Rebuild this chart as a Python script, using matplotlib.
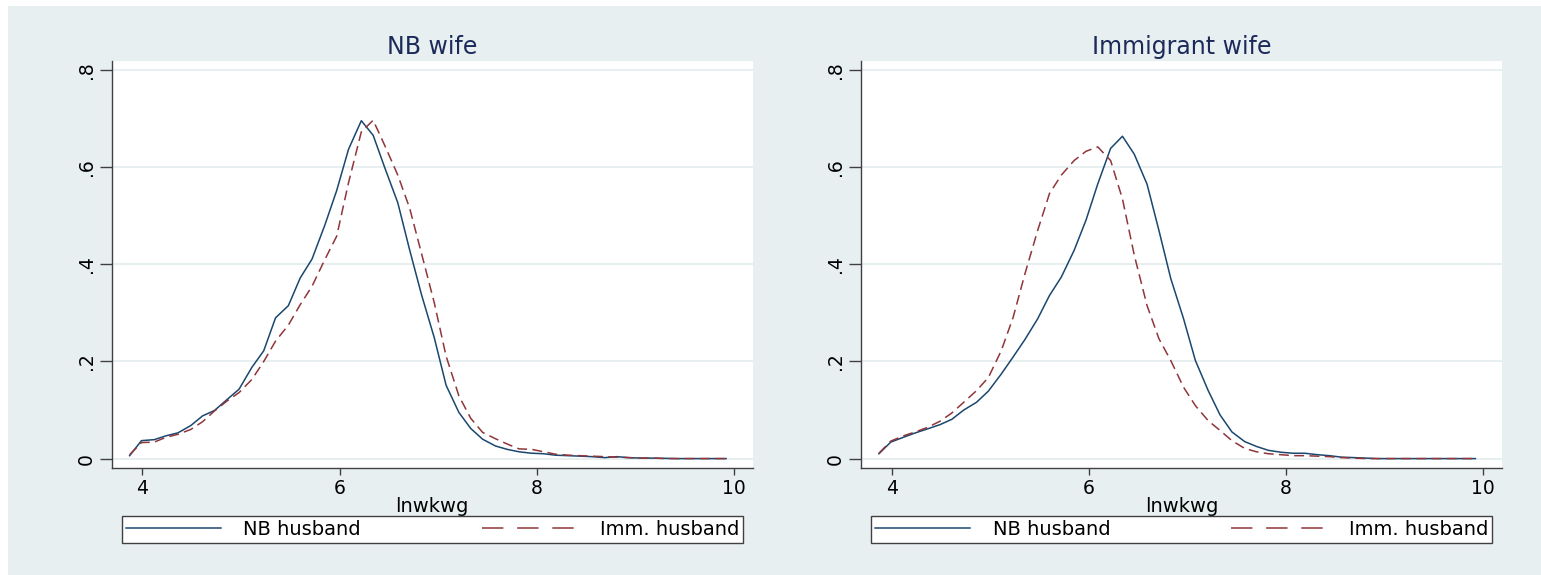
import numpy as np
import matplotlib
matplotlib.use("Agg")
import matplotlib.pyplot as plt
from matplotlib.patches import Rectangle

# kdensity grid (50 points)
x = [3.87, 3.99, 4.12, 4.24, 4.36, 4.49, 4.61, 4.73, 4.86, 4.98,
     5.11, 5.23, 5.35, 5.48, 5.60, 5.72, 5.85, 5.97, 6.09, 6.22,
     6.34, 6.46, 6.59, 6.71, 6.83, 6.96, 7.08, 7.21, 7.33, 7.45,
     7.58, 7.70, 7.82, 7.95, 8.07, 8.19, 8.32, 8.44, 8.56, 8.69,
     8.81, 8.93, 9.06, 9.18, 9.30, 9.43, 9.55, 9.67, 9.80, 9.92]

# NB wife panel
nb_wife_nb_husb = [0.006, 0.037, 0.039, 0.047, 0.053, 0.068, 0.088, 0.099, 0.122, 0.143,
                   0.188, 0.222, 0.290, 0.315, 0.372, 0.411, 0.481, 0.552, 0.637, 0.696,
                   0.666, 0.598, 0.527, 0.430, 0.338, 0.249, 0.151, 0.095, 0.062, 0.040,
                   0.026, 0.019, 0.014, 0.011, 0.010, 0.007, 0.006, 0.005, 0.004, 0.002,
                   0.004, 0.002, 0.001, 0.001, 0.0005, 0.0, 0.0, 0.0, 0.0, 0.0]
nb_wife_imm_husb = [0.008, 0.033, 0.034, 0.044, 0.050, 0.060, 0.076, 0.098, 0.119, 0.136,
                    0.163, 0.200, 0.242, 0.275, 0.317, 0.355, 0.410, 0.458, 0.568, 0.673,
                    0.697, 0.644, 0.584, 0.516, 0.423, 0.321, 0.211, 0.129, 0.083, 0.054,
                    0.041, 0.030, 0.020, 0.019, 0.014, 0.009, 0.007, 0.006, 0.005, 0.004,
                    0.003, 0.002, 0.001, 0.001, 0.0, 0.0, 0.0, 0.0, 0.0, 0.0]

# Immigrant wife panel
imm_wife_nb_husb = [0.010, 0.034, 0.044, 0.053, 0.061, 0.070, 0.081, 0.100, 0.116, 0.139,
                    0.174, 0.209, 0.245, 0.288, 0.336, 0.374, 0.429, 0.491, 0.566, 0.639,
                    0.664, 0.627, 0.565, 0.470, 0.371, 0.288, 0.202, 0.140, 0.090, 0.055,
                    0.035, 0.025, 0.017, 0.013, 0.011, 0.011, 0.008, 0.006, 0.003, 0.002,
                    0.001, 0.0, 0.0, 0.0, 0.0, 0.0, 0.0, 0.0, 0.0, 0.0]
imm_wife_imm_husb = [0.011, 0.036, 0.047, 0.055, 0.064, 0.077, 0.094, 0.116, 0.140, 0.167,
                     0.222, 0.290, 0.380, 0.470, 0.546, 0.584, 0.614, 0.633, 0.642, 0.614,
                     0.535, 0.419, 0.315, 0.247, 0.202, 0.147, 0.109, 0.078, 0.058, 0.037,
                     0.021, 0.014, 0.010, 0.008, 0.006, 0.006, 0.005, 0.004, 0.002, 0.001,
                     0.0, 0.0, 0.0, 0.0, 0.0, 0.0, 0.0, 0.0, 0.0, 0.0]

titles = ["NB wife", "Immigrant wife"]
series_labels = ["NB husband", "Imm. husband"]
xticks = [4, 6, 8, 10]
yticks = [0, 0.2, 0.4, 0.6, 0.8]
ytick_labels = ["0", ".2", ".4", ".6", ".8"]

bg = "#E8EFF1"
navy = "#1A476F"
maroon = "#90353B"

plt.rcParams["font.family"] = "DejaVu Sans"

W, H = 1541, 575
fig = plt.figure(figsize=(W / 100, H / 100), dpi=100, facecolor="white")
fig.patches.append(Rectangle((8 / W, 0), 1, (H - 6) / H, transform=fig.transFigure,
                             facecolor=bg, edgecolor="none", zorder=-10))

panels = [
    (111.7, titles[0], nb_wife_nb_husb, nb_wife_imm_husb),
    (861.0, titles[1], imm_wife_nb_husb, imm_wife_imm_husb),
]
for left_px, title, nb, imm in panels:
    ax = fig.add_axes([left_px / W, (H - 468.3) / H, 641 / W, 407.3 / H])
    ax.set_facecolor("white")
    ax.plot(x, nb, color=navy, lw=1.1, label=series_labels[0])
    ax.plot(x, imm, color=maroon, lw=1.1, dashes=(6.5, 3.5), label=series_labels[1])
    ax.set_xlim(3.688, 10.19)
    ax.set_ylim(-0.02, 0.819)
    ax.set_xticks(xticks)
    ax.set_yticks(yticks)
    ax.set_yticklabels(ytick_labels, rotation=90, va="center")
    ax.grid(axis="y", color="#E3ECEE", lw=1.2)
    ax.set_axisbelow(True)
    for s in ["top", "right"]:
        ax.spines[s].set_visible(False)
    for s in ["left", "bottom"]:
        ax.spines[s].set_color("#404040")
        ax.spines[s].set_linewidth(1.0)
    ax.tick_params(axis="x", length=5, width=1, color="#404040", labelsize=13.5, pad=3)
    ax.tick_params(axis="y", length=8.6, width=1, color="#404040", labelsize=13.5, pad=3)
    ax.set_title(title, fontsize=17, color="#1C2A5A", pad=5)
    ax.set_xlabel("lnwkwg", fontsize=14, labelpad=-1)
    leg = ax.legend(loc="upper left", bbox_to_anchor=(0.0156, -0.1827, 0.969, 0.0655),
                    mode="expand", ncol=2, fontsize=14, handlelength=4.9,
                    handletextpad=1.15, borderpad=0.2, borderaxespad=0,
                    fancybox=False, framealpha=1, edgecolor="#404040")
    leg.get_frame().set_linewidth(1.0)
    leg.get_lines()[1].set_dashes((14, 9))

fig.savefig("out.png", dpi=100, facecolor=fig.get_facecolor())
